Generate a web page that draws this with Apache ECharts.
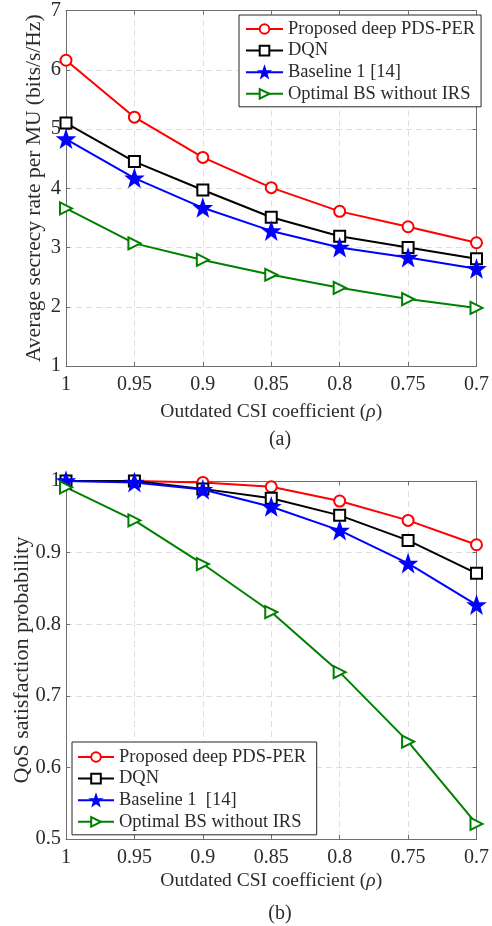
<!DOCTYPE html>
<html>
<head>
<meta charset="utf-8">
<script src="https://cdn.jsdelivr.net/npm/echarts@6/dist/echarts.min.js"></script>
<style>
  html, body { margin: 0; padding: 0; background: #fff; }
  #chart { width: 492px; height: 926px; }
</style>
</head>
<body>
<div id="chart"></div>
<script>
// x categories (outdated CSI coefficient, shown from 1 down to 0.7)
const categories = ['1', '0.95', '0.9', '0.85', '0.8', '0.75', '0.7'];

// (a) average secrecy rate per MU
const secrecyProposed = [6.16, 5.2, 4.52, 4.01, 3.61, 3.35, 3.08];
const secrecyDqn = [5.1, 4.45, 3.97, 3.51, 3.19, 3.0, 2.81];
const secrecyBaseline = [4.83, 4.17, 3.67, 3.28, 3.0, 2.83, 2.64];
const secrecyNoIrs = [3.66, 3.07, 2.79, 2.54, 2.32, 2.13, 1.98];

// (b) QoS satisfaction probability
const qosProposed = [1.0, 1.0, 0.998, 0.992, 0.972, 0.945, 0.911];
const qosDqn = [1.0, 1.0, 0.989, 0.976, 0.952, 0.917, 0.871];
const qosBaseline = [1.0, 0.998, 0.988, 0.964, 0.931, 0.885, 0.827];
const qosNoIrs = [0.991, 0.945, 0.884, 0.817, 0.733, 0.636, 0.521];

const FONT = "'Liberation Serif', 'Times New Roman', serif";
const TXT = '#2b2b2b';
const AXIS = '#6e6e6e';
const STAR = 'path://M0,-10 L2.35,-3.24 L9.51,-3.09 L3.8,1.24 L5.88,8.09 L0,4 L-5.88,8.09 L-3.8,1.24 L-9.51,-3.09 L-2.35,-3.24 Z';

const chart = echarts.init(document.getElementById('chart'));

// 主坐标轴（带刻度标签）
function mainX(grid, nameGap) {
  return {
    type: 'category', gridIndex: grid, data: categories, boundaryGap: false,
    name: 'Outdated CSI coefficient ({i|ρ})', nameLocation: 'middle', nameGap: nameGap,
    nameMoveOverlap: false,
    nameTextStyle: {
      fontFamily: FONT, fontSize: 19.5, color: TXT,
      rich: { i: { fontFamily: FONT, fontSize: 19.5, fontStyle: 'italic', color: TXT } }
    },
    axisLine: { lineStyle: { color: AXIS, width: 1 } },
    axisTick: { inside: true, length: 4, lineStyle: { color: AXIS } },
    axisLabel: { fontFamily: FONT, fontSize: 20, color: TXT, margin: 9 },
    splitLine: { show: true, lineStyle: { color: '#dedede', type: [6, 4] } }
  };
}
// 顶部/右侧的镜像轴，只画刻度
function mirrorX(grid) {
  return {
    type: 'category', gridIndex: grid, data: categories, boundaryGap: false, position: 'top',
    axisLine: { lineStyle: { color: AXIS } },
    axisTick: { inside: true, length: 4, lineStyle: { color: AXIS } },
    axisLabel: { show: false }, splitLine: { show: false }
  };
}
function mainY(grid, name, min, max, interval, nameSize, nameGap) {
  return {
    type: 'value', gridIndex: grid, min: min, max: max, interval: interval,
    name: name, nameLocation: 'middle', nameGap: nameGap, nameMoveOverlap: false,
    nameTextStyle: { fontFamily: FONT, fontSize: nameSize, color: TXT },
    axisLine: { show: true, lineStyle: { color: AXIS } },
    axisTick: { show: true, inside: true, length: 4, lineStyle: { color: AXIS } },
    axisLabel: { fontFamily: FONT, fontSize: 20.5, color: TXT, margin: 5 },
    splitLine: { show: true, lineStyle: { color: '#dedede', type: [6, 4] } }
  };
}
function mirrorY(grid, min, max, interval) {
  return {
    type: 'value', gridIndex: grid, min: min, max: max, interval: interval, position: 'right',
    axisLine: { show: true, lineStyle: { color: AXIS } },
    axisTick: { show: true, inside: true, length: 4, lineStyle: { color: AXIS } },
    axisLabel: { show: false }, splitLine: { show: false }
  };
}

function line(name, data, color, symbol, size, grid, extra) {
  return Object.assign({
    name: name, type: 'line', data: data,
    xAxisIndex: grid * 2, yAxisIndex: grid * 2,
    symbol: symbol, symbolSize: size, showAllSymbol: true, clip: false,
    lineStyle: { color: color, width: 2 },
    itemStyle: { color: color, borderColor: color, borderWidth: 2 }
  }, extra || {});
}

const legendStyle = {
  orient: 'vertical', itemWidth: 37, itemHeight: 12, itemGap: 1.6,
  backgroundColor: '#fff', borderColor: '#262626', borderWidth: 1,
  textStyle: { fontFamily: FONT, fontSize: 18.5, color: TXT, lineHeight: 20 }
};

const option = {
  animation: false,
  backgroundColor: '#fff',
  title: [
    { text: '(a)', left: 275, top: 425, textAlign: 'center',
      textStyle: { fontFamily: FONT, fontSize: 20, fontWeight: 'normal', color: TXT } },
    { text: '(b)', left: 275, top: 899, textAlign: 'center',
      textStyle: { fontFamily: FONT, fontSize: 20, fontWeight: 'normal', color: TXT } }
  ],
  grid: [
    { left: 66, right: 9, top: 8, height: 358 },
    { left: 66, right: 9, top: 481, height: 358 }
  ],
  xAxis: [mainX(0, 36), mirrorX(0), mainX(1, 32), mirrorX(1)],
  yAxis: [
    mainY(0, 'Average secrecy rate per MU (bits/s/Hz)', 1, 7, 1, 21.5, 21), mirrorY(0, 1, 7, 1),
    mainY(1, 'QoS satisfaction probability', 0.5, 1, 0.1, 22, 33), mirrorY(1, 0.5, 1, 0.1)
  ],
  legend: [
    Object.assign({}, legendStyle, {
      left: 239, top: 15, padding: [4, 6, 3, 6],
      data: ['Proposed deep PDS-PER', 'DQN', 'Baseline 1 [14]', 'Optimal BS without IRS']
    }),
    Object.assign({}, legendStyle, {
      left: 72, top: 742, padding: [5, 6, 3, 5], itemWidth: 36,
      data: ['Proposed deep PDS-PER ', 'DQN ', 'Baseline 1  [14]', 'Optimal BS without IRS ']
    })
  ],
  series: [
    line('Proposed deep PDS-PER', secrecyProposed, '#ff0000', 'emptyCircle', 11, 0),
    line('DQN', secrecyDqn, '#000000', 'emptyRect', 11, 0),
    line('Baseline 1 [14]', secrecyBaseline, '#0000ff', STAR, 15, 0),
    line('Optimal BS without IRS', secrecyNoIrs, '#008000', 'emptyTriangle', 12, 0, { symbolRotate: -90 }),
    line('Proposed deep PDS-PER ', qosProposed, '#ff0000', 'emptyCircle', 11, 1),
    line('DQN ', qosDqn, '#000000', 'emptyRect', 11, 1),
    line('Baseline 1  [14]', qosBaseline, '#0000ff', STAR, 15, 1),
    line('Optimal BS without IRS ', qosNoIrs, '#008000', 'emptyTriangle', 12, 1, { symbolRotate: -90 })
  ]
};

option && chart.setOption(option);
</script>
</body>
</html>
